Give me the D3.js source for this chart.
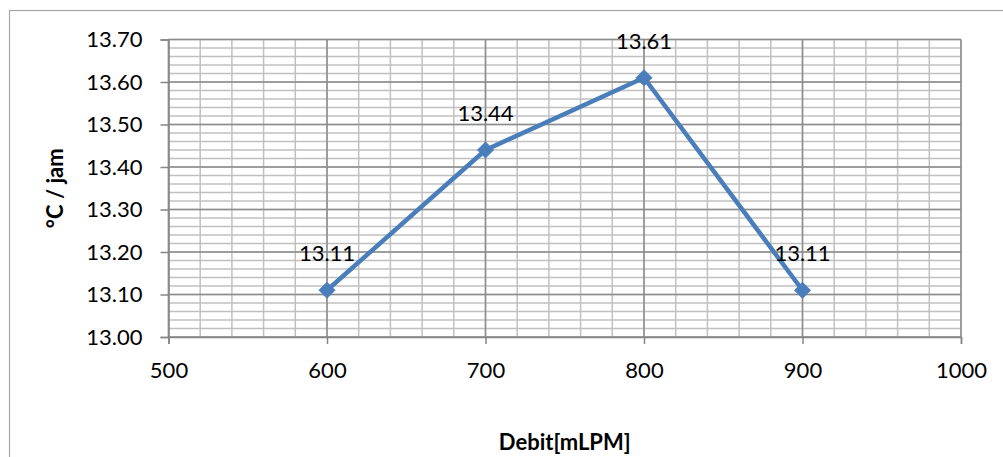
<!DOCTYPE html>
<html>
<head>
<meta charset="utf-8">
<script src="https://cdn.jsdelivr.net/npm/d3@7"></script>
<style>
  body { margin: 0; background: #fff; }
  text { font-family: Lato, "Open Sans", sans-serif; fill: #000; }
</style>
</head>
<body>
<div id="chart"></div>
<script>
// data
var debit = [600, 700, 800, 900];
var rate = [13.11, 13.44, 13.61, 13.11];
var rateLabels = ["13.11", "13.44", "13.61", "13.11"];
var xTicks = [500, 600, 700, 800, 900, 1000];
var yTicks = [13.0, 13.1, 13.2, 13.3, 13.4, 13.5, 13.6, 13.7];

var svgWidth = 1003;
var svgHeight = 457;
var margin = {top: 39.5, right: 42, bottom: 120, left: 168.5};
var width = svgWidth - margin.left - margin.right;
var height = svgHeight - margin.top - margin.bottom;
var fontSize = "22px";

var svg = d3.select("#chart")
  .append("svg")
  .attr("width", svgWidth)
  .attr("height", svgHeight);

// outer chart border
svg.append("rect")
  .attr("x", 9.5).attr("y", 10.5)
  .attr("width", svgWidth + 10).attr("height", svgHeight + 10)
  .attr("fill", "none").attr("stroke", "#a6a6a6").attr("stroke-width", 1.2);

var g = svg.append("g")
  .attr("transform", "translate(" + margin.left + "," + margin.top + ")");

var x = d3.scaleLinear().domain([500, 1000]).range([0, width]);
var y = d3.scaleLinear().domain([13.0, 13.7]).range([height, 0]);

// minor gridlines
var xMinor = d3.range(500, 1001, 20);
var yMinor = d3.range(0, 36).map(function(i) { return 13.0 + i * 0.02; });

g.selectAll(".xminor").data(xMinor).enter().append("line")
  .attr("x1", d => x(d)).attr("x2", d => x(d))
  .attr("y1", 0).attr("y2", height)
  .attr("stroke", "#c0c0c0").attr("stroke-width", 1.5);

g.selectAll(".yminor").data(yMinor).enter().append("line")
  .attr("x1", 0).attr("x2", width)
  .attr("y1", d => y(d)).attr("y2", d => y(d))
  .attr("stroke", "#c0c0c0").attr("stroke-width", 1.5);

// major gridlines
g.selectAll(".xmajor").data(xTicks).enter().append("line")
  .attr("x1", d => x(d)).attr("x2", d => x(d))
  .attr("y1", 0).attr("y2", height)
  .attr("stroke", "#8c8c8c").attr("stroke-width", 1.5);

g.selectAll(".ymajor").data(yTicks).enter().append("line")
  .attr("x1", 0).attr("x2", width)
  .attr("y1", d => y(d)).attr("y2", d => y(d))
  .attr("stroke", "#8c8c8c").attr("stroke-width", 1.5);

// axes
var bottomAxis = d3.axisBottom(x).tickValues(xTicks).tickSize(7).tickPadding(18)
  .tickFormat(d3.format("d"));
var leftAxis = d3.axisLeft(y).tickValues(yTicks).tickSize(8).tickPadding(18)
  .tickFormat(d3.format(".2f"));

var xAxisG = g.append("g")
  .attr("transform", "translate(0," + height + ")")
  .call(bottomAxis);
var yAxisG = g.append("g").call(leftAxis);

[xAxisG, yAxisG].forEach(function(a) {
  a.select(".domain").attr("stroke", "#868686").attr("stroke-width", 1.5);
  a.selectAll(".tick line").attr("stroke", "#868686").attr("stroke-width", 1.5);
  a.selectAll(".tick text")
    .attr("font-size", fontSize)
    .attr("font-family", "Lato, 'Open Sans', sans-serif")
    .attr("fill", "#000");
});

// line
var line = d3.line()
  .x((d, i) => x(debit[i]))
  .y(d => y(d));

g.append("path")
  .datum(rate)
  .attr("d", line)
  .attr("fill", "none")
  .attr("stroke", "#4a7ebb")
  .attr("stroke-width", 4.5)
  .attr("stroke-linejoin", "round");

// diamond markers
g.selectAll(".marker").data(rate).enter().append("path")
  .attr("transform", (d, i) => "translate(" + x(debit[i]) + "," + y(d) + ")")
  .attr("d", "M0,-8L8,0L0,8L-8,0Z")
  .attr("fill", "#4a7ebb")
  .attr("stroke", "#4a7ebb")
  .attr("stroke-width", 1);

// data labels
g.selectAll(".dlabel").data(rate).enter().append("text")
  .attr("x", (d, i) => x(debit[i]))
  .attr("y", d => y(d) - 29)
  .attr("text-anchor", "middle")
  .attr("font-size", fontSize)
  .text((d, i) => rateLabels[i]);

// axis titles
g.append("text")
  .attr("transform", "rotate(-90)")
  .attr("x", -height / 2)
  .attr("y", -113)
  .attr("dy", "0.35em")
  .attr("text-anchor", "middle")
  .attr("font-size", fontSize)
  .attr("font-weight", "bold")
  .text("°C / jam");

g.append("text")
  .attr("x", width / 2)
  .attr("y", height + 113)
  .attr("text-anchor", "middle")
  .attr("font-size", fontSize)
  .attr("font-weight", "bold")
  .text("Debit[mLPM]");
</script>
</body>
</html>
